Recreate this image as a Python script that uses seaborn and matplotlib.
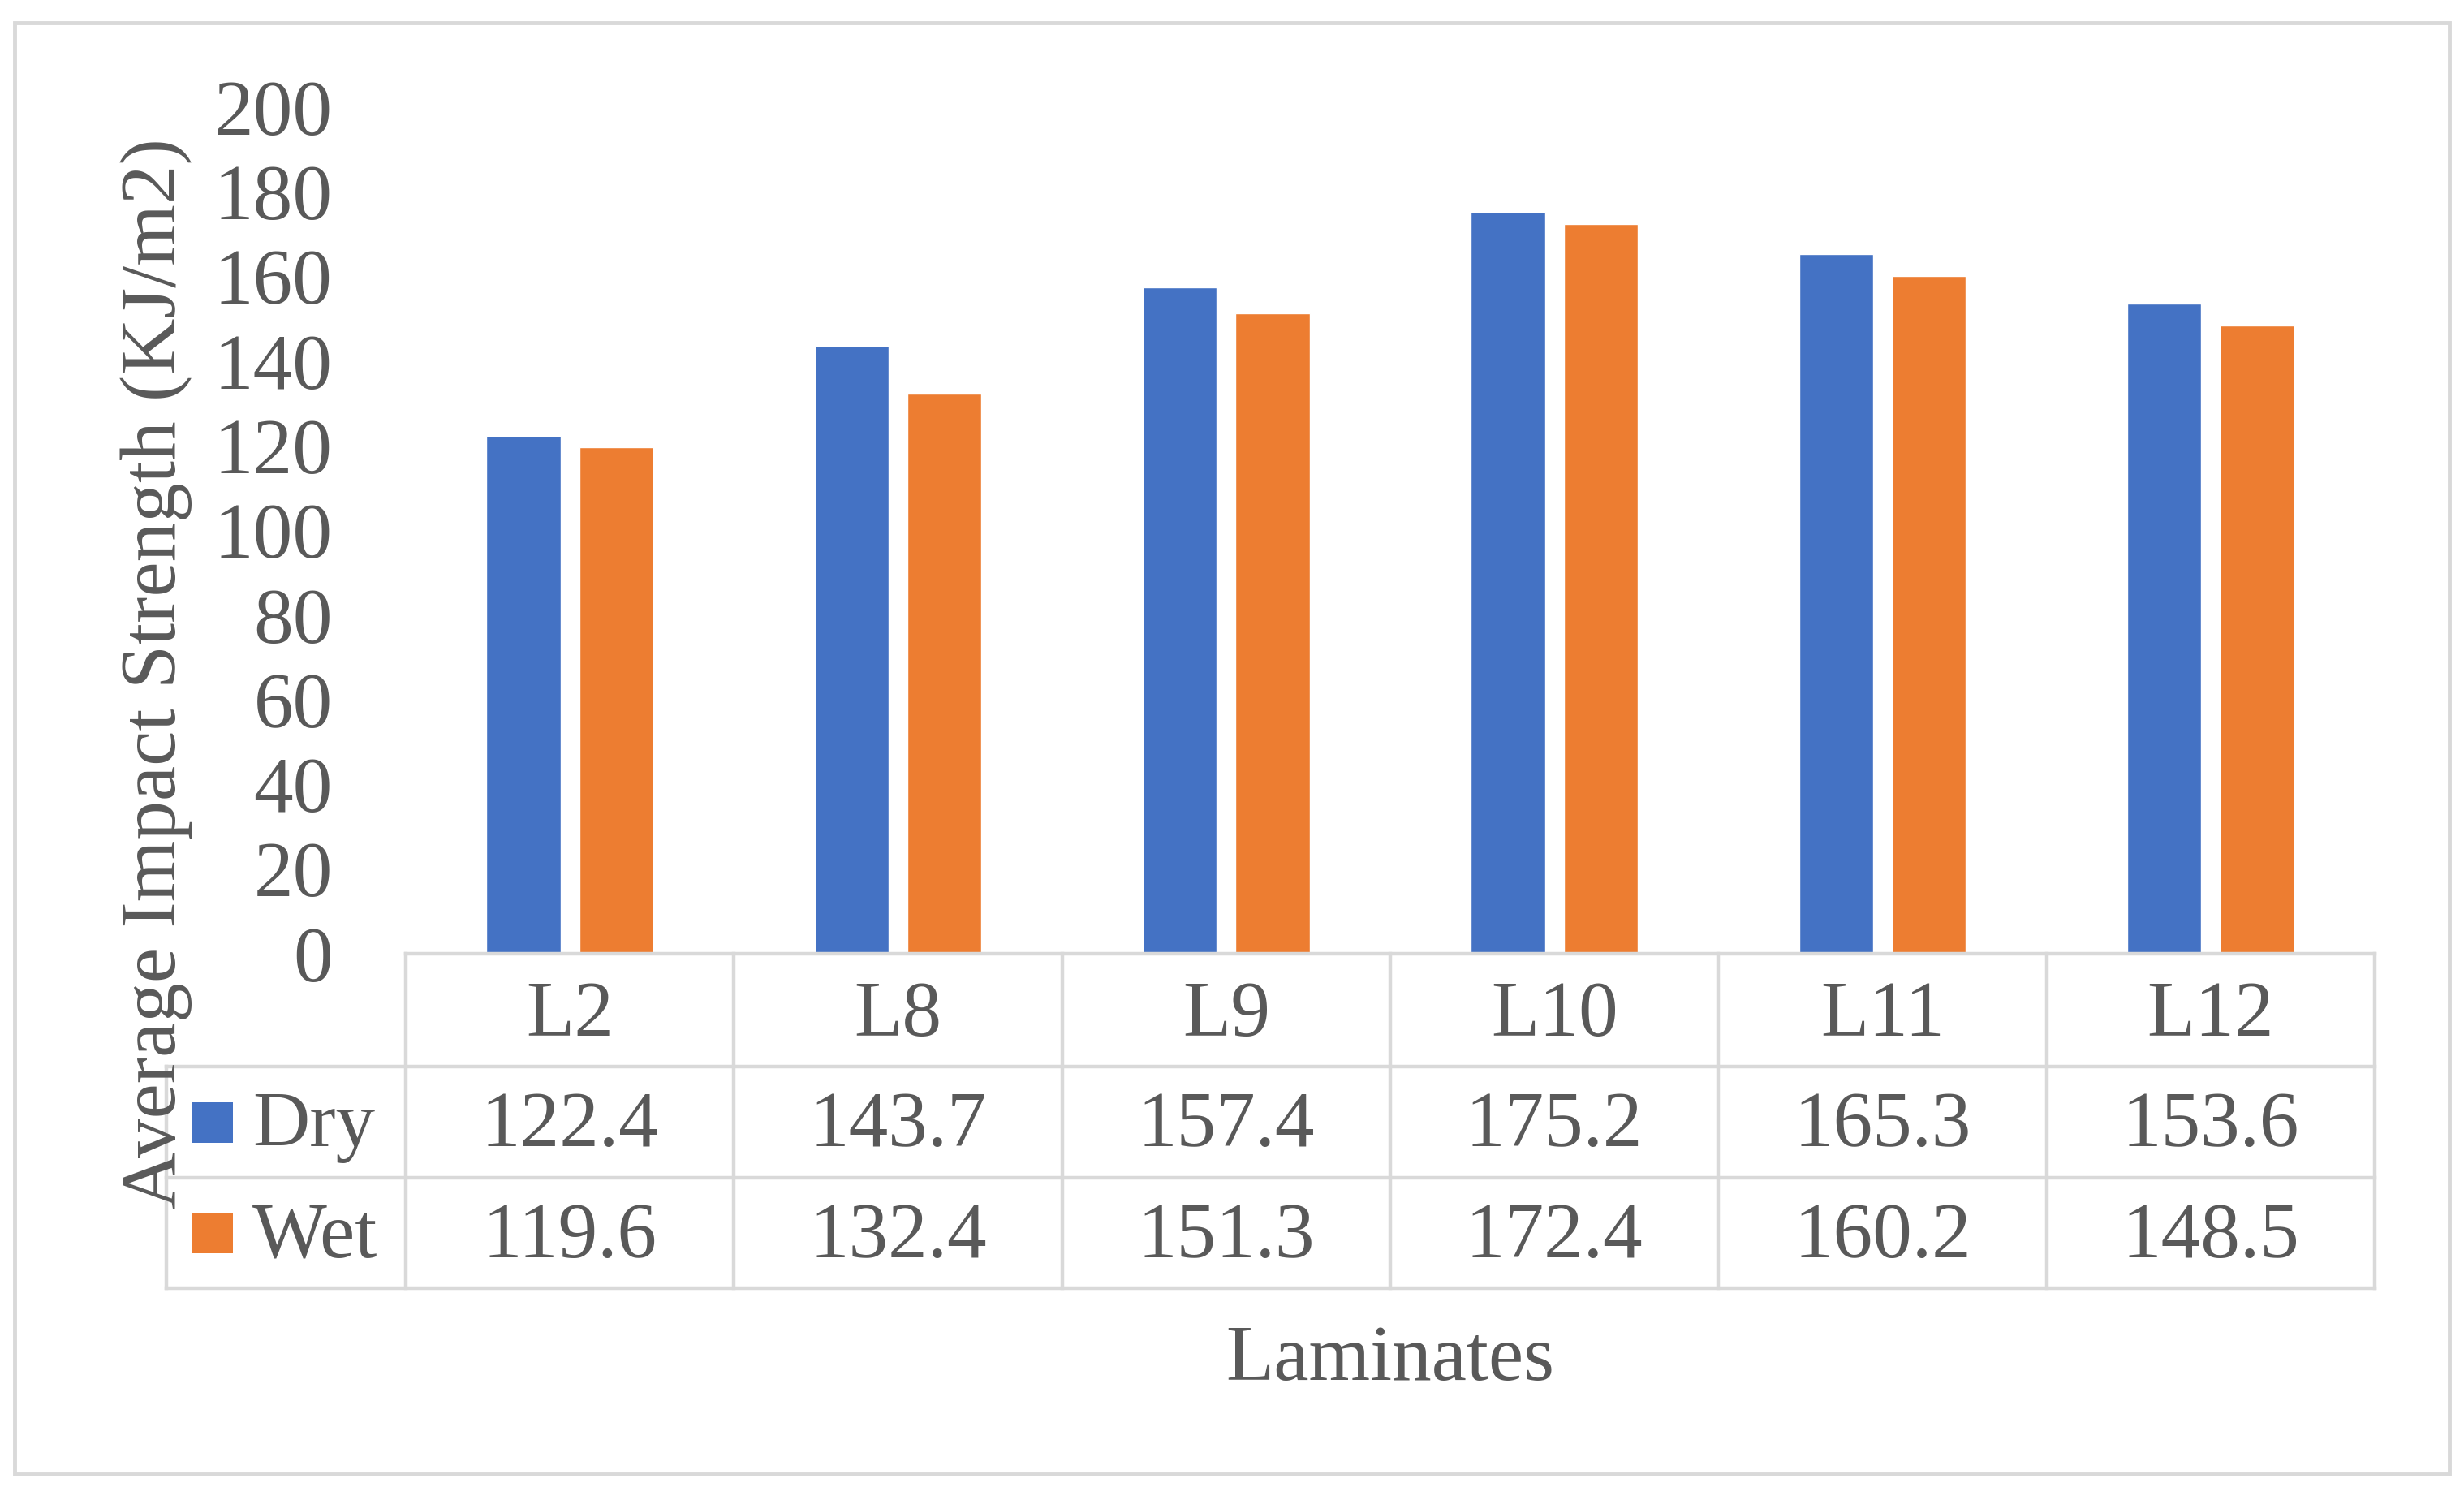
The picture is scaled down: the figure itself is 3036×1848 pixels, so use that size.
import pandas as pd
import matplotlib
matplotlib.use("Agg")
import matplotlib.pyplot as plt
from matplotlib.lines import Line2D
from matplotlib.patches import Rectangle
import seaborn as sns

# data
laminates = ['L2', 'L8', 'L9', 'L10', 'L11', 'L12']
conditions = ['Dry', 'Wet']
dry = [122.4, 143.7, 157.4, 175.2, 165.3, 153.6]
wet = [119.6, 132.4, 151.3, 172.4, 160.2, 148.5]
yticks = list(range(0, 201, 20))
colors = ['#4472C4', '#ED7D31']

df = pd.DataFrame({
    'Laminate': laminates * 2,
    'Condition': ['Dry'] * len(dry) + ['Wet'] * len(wet),
    'Strength': dry + wet,
})

sns.set_style('white')
plt.rcParams['font.family'] = ['Liberation Serif', 'DejaVu Serif']
TXT = '#595959'
GRID = '#D9D9D9'
FS = 70

W_PX, H_PX = 3036, 1848


def fx(x):
    return x / W_PX


def fy(y):
    return 1 - y / H_PX


fig = plt.figure(figsize=(W_PX / 100, H_PX / 100), dpi=100)

# plot area in pixel terms
ax_l, ax_r, ax_t, ax_b = 500, 2926, 132, 1175
ax = fig.add_axes([fx(ax_l), fy(ax_b), (ax_r - ax_l) / W_PX, (ax_b - ax_t) / H_PX])

sns.barplot(data=df, x='Laminate', y='Strength', hue='Condition',
            order=laminates, hue_order=conditions, palette=colors, saturation=1,
            width=0.565, gap=0.2, errorbar=None, legend=False, ax=ax)

ax.set_xlim(-0.5, len(laminates) - 0.5)
ax.set_ylim(0, 200)
ax.set_yticks(yticks)
ax.set_yticklabels([str(t) for t in yticks])
ax.tick_params(axis='y', length=0, pad=65, labelsize=FS, labelcolor=TXT)
ax.set_xticks([])
ax.set_xlabel('')
ax.set_ylabel('')
for s in ax.spines.values():
    s.set_visible(False)

# data table under the plot
col_w = (ax_r - ax_l) / len(laminates)
rows = [1175, 1314, 1451, 1587]
leg_l = 205
lw = 3.2


def hline(x0, x1, y):
    fig.add_artist(Line2D([fx(x0), fx(x1)], [fy(y), fy(y)], color=GRID, lw=lw,
                          solid_capstyle='projecting'))


def vline(x, y0, y1):
    fig.add_artist(Line2D([fx(x), fx(x)], [fy(y0), fy(y1)], color=GRID, lw=lw,
                          solid_capstyle='projecting'))


hline(ax_l, ax_r, rows[0])
for y in rows[1:]:
    hline(leg_l, ax_r, y)
vline(leg_l, rows[1], rows[3])
for i in range(len(laminates) + 1):
    vline(ax_l + i * col_w, rows[0], rows[3])

for i, lam in enumerate(laminates):
    cx = ax_l + (i + 0.5) * col_w
    fig.text(fx(cx), fy(rows[0] + 101), lam, ha='center', va='baseline',
             fontsize=FS, color=TXT)
    fig.text(fx(cx), fy(rows[1] + 98), f'{dry[i]:.1f}', ha='center', va='baseline',
             fontsize=FS, color=TXT)
    fig.text(fx(cx), fy(rows[2] + 98), f'{wet[i]:.1f}', ha='center', va='baseline',
             fontsize=FS, color=TXT)

# legend keys in the table
for r, (name, c) in enumerate(zip(conditions, colors)):
    top = rows[r + 1]
    mid = (top + rows[r + 2]) / 2
    fig.add_artist(Rectangle((fx(236), fy(mid + 25)), 51 / W_PX, 50 / H_PX,
                             facecolor=c, edgecolor='none'))
    fig.text(fx(311), fy(top + 98), name, ha='left', va='baseline',
             fontsize=FS, color=TXT)

# axis titles
fig.text(fx(193), fy(830), 'Average Impact Strength (KJ/m2)', rotation=90,
         ha='center', va='center', fontsize=FS, color=TXT)
fig.text(fx((ax_l + ax_r) / 2), fy(1700), 'Laminates', ha='center', va='baseline',
         fontsize=FS, color=TXT)

# chart border
fig.add_artist(Rectangle((fx(18), fy(1816)), (3018 - 18) / W_PX, (1816 - 28) / H_PX,
                         facecolor='none', edgecolor=GRID, lw=3.5))

fig.savefig('out.png', dpi=100)
